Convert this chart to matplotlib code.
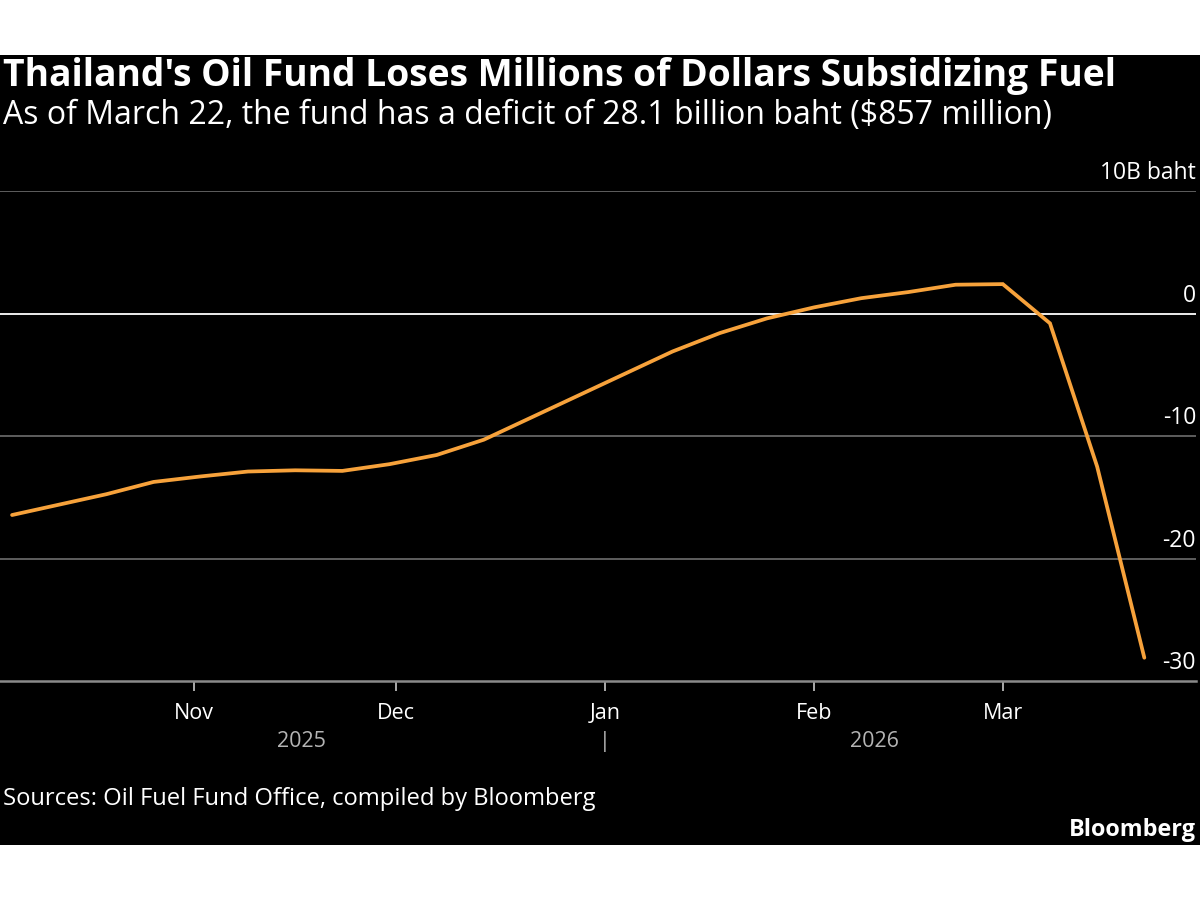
import matplotlib
matplotlib.use("Agg")
import matplotlib.pyplot as plt
import matplotlib.dates as mdates
from matplotlib.patches import Rectangle
import datetime as dt

plt.rcParams['font.family'] = ['Open Sans', 'DejaVu Sans']

# weekly fund balance, billion baht
dates = ["2025-10-05", "2025-10-12", "2025-10-19", "2025-10-26", "2025-11-02",
         "2025-11-09", "2025-11-16", "2025-11-23", "2025-11-30", "2025-12-07",
         "2025-12-14", "2025-12-21", "2025-12-28", "2026-01-04", "2026-01-11",
         "2026-01-18", "2026-01-25", "2026-02-01", "2026-02-08", "2026-02-15",
         "2026-02-22", "2026-03-01", "2026-03-08", "2026-03-15", "2026-03-22"]
balance = [-16.45, -15.6, -14.75, -13.75, -13.3,
           -12.9, -12.8, -12.85, -12.3, -11.55,
           -10.3, -8.5, -6.7, -4.9, -3.1,
           -1.6, -0.4, 0.5, 1.25, 1.75,
           2.35, 2.4, -0.8, -12.5, -28.1]
yticks = [10, 0, -10, -20, -30]
ylabels = ["10B baht", "0", "-10", "-20", "-30"]
months = ["2025-11-01", "2025-12-01", "2026-01-01", "2026-02-01", "2026-03-01"]
month_labels = ["Nov", "Dec", "Jan", "Feb", "Mar"]
years = ["2025", "2026"]
year_pos = ["2025-11-17", "2026-02-10"]

x = [dt.datetime.strptime(d, "%Y-%m-%d") for d in dates]
mx = [dt.datetime.strptime(d, "%Y-%m-%d") for d in months]

W, H = 1200, 900
fig = plt.figure(figsize=(12, 9), dpi=100, facecolor="white")
fig.patches.append(Rectangle((0, 55 / H), 1, 790 / H, transform=fig.transFigure,
                             facecolor="black", edgecolor="none", zorder=-1))

ax = fig.add_axes([0, 1 - 681 / H, 1196 / W, 490 / H])
ax.set_facecolor("black")
ax.set_xlim(dt.datetime(2025, 10, 3, 5), dt.datetime(2026, 3, 29, 16))
ax.set_ylim(-30, 10)

for v in yticks:
    if v == 0:
        ax.axhline(v, color="white", lw=1.3, zorder=2)
    elif v == -30:
        ax.axhline(v, color="#8a8a8a", lw=1.8, zorder=2, clip_on=False)
    else:
        ax.axhline(v, color="#6e6e6e", lw=1.2, zorder=1)

for v, lab in zip(yticks, ylabels):
    ax.annotate(lab, (1, v), xycoords=("axes fraction", "data"),
                xytext=(0, 8.5), textcoords="offset points",
                ha="right", va="baseline", color="white", fontsize=16.5)

ax.plot(x, balance, color="#F7A23B", lw=2.7, zorder=3, solid_capstyle="round",
        solid_joinstyle="miter")

for s in ax.spines.values():
    s.set_visible(False)
ax.set_yticks([])
ax.set_xticks(mx)
ax.set_xticklabels(month_labels, color="white", fontsize=15.5)
ax.tick_params(axis="x", length=7, width=1.2, color="#c8c8c8", pad=9)

# year labels
trans = ax.get_xaxis_transform()
for yr, p in zip(years, year_pos):
    ax.text(dt.datetime.strptime(p, "%Y-%m-%d"), -0.135, yr, transform=trans,
            ha="center", va="baseline", color="#b4b4b4", fontsize=15.5)
ax.text(dt.datetime(2026, 1, 1), -0.135, "|", transform=trans, ha="center",
        va="baseline", color="#b4b4b4", fontsize=15.5)

fig.text(3 / W, 1 - 86 / H, "Thailand's Oil Fund Loses Millions of Dollars Subsidizing Fuel",
         color="white", fontsize=26.8, fontweight="bold", va="baseline", ha="left")
fig.text(3 / W, 1 - 124 / H, "As of March 22, the fund has a deficit of 28.1 billion baht ($857 million)",
         color="white", fontsize=23, va="baseline", ha="left")
fig.text(3 / W, 1 - 805 / H, "Sources: Oil Fuel Fund Office, compiled by Bloomberg",
         color="white", fontsize=17.1, va="baseline", ha="left")
fig.text(1196 / W, 1 - 836 / H, "Bloomberg", color="white", fontsize=16.8,
         fontweight="bold", va="baseline", ha="right")

fig.savefig("out.png", dpi=100, facecolor="white")
